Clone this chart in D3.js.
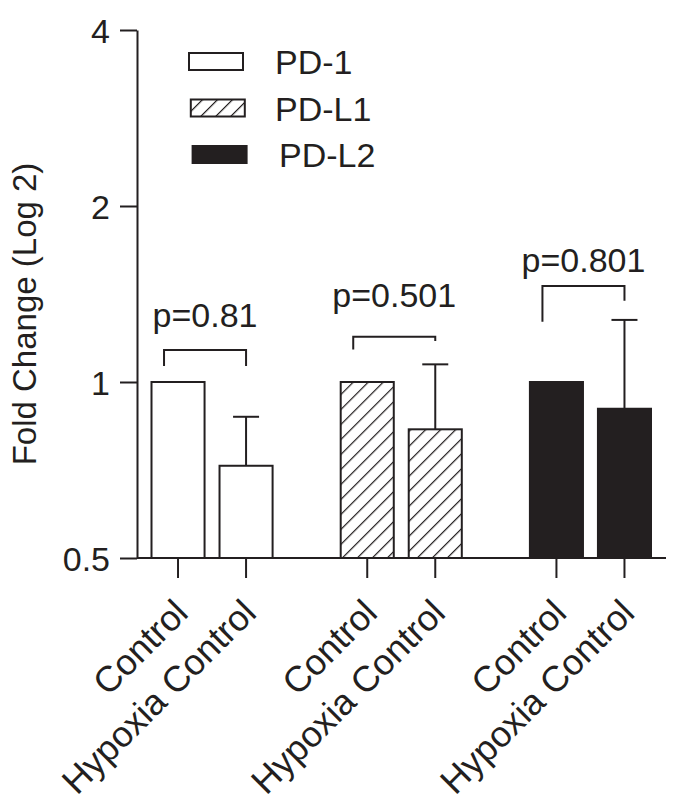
<!DOCTYPE html>
<html>
<head>
<meta charset="utf-8">
<script src="https://cdn.jsdelivr.net/npm/d3@7"></script>
<style>
  body { margin: 0; background: #fff; }
  text { font-family: "Liberation Sans", Arial, Helvetica, sans-serif; fill: #231f20; }
</style>
</head>
<body>
<script>
// data
var groups = ["PD-1", "PD-L1", "PD-L2"];
var conditions = ["Control", "Hypoxia Control"];
var meanControl = [1, 1, 1];
var meanHypoxia = [0.719, 0.830, 0.900];
var errTopHypoxia = [0.872, 1.072, 1.277];
var pValues = ["p=0.81", "p=0.501", "p=0.801"];
var bracketTop = [1.134, 1.195, 1.459];
var bracketLeftEnd = [1.065, 1.137, 1.268];
var bracketRightEnd = [1.065, 1.175, 1.377];
var pLabelLevel = [1.243, 1.345, 1.544];
var yTicks = [0.5, 1, 2, 4];

var width = 691, height = 812;
var ink = "#231f20";

var svg = d3.select("body").append("svg")
  .attr("width", width)
  .attr("height", height);

var defs = svg.append("defs");
var hatch = defs.append("pattern")
  .attr("id", "hatch")
  .attr("patternUnits", "userSpaceOnUse")
  .attr("width", 10.6)
  .attr("height", 10.6)
  .attr("patternTransform", "rotate(45)");
hatch.append("rect").attr("width", 10.6).attr("height", 10.6).attr("fill", "#fff");
hatch.append("line")
  .attr("x1", 0).attr("y1", 0).attr("x2", 0).attr("y2", 10.6)
  .attr("stroke", ink).attr("stroke-width", 2.4);

var fills = { "PD-1": "#fff", "PD-L1": "url(#hatch)", "PD-L2": ink };

//	scales
var y = d3.scaleLog().base(2).domain([0.5, 4]).range([558, 30]);

var x0 = d3.scaleBand().domain(groups)
  .range([151.5, 651])
  .paddingInner(0.36)
  .paddingOuter(0);

var x1 = d3.scaleBand().domain(conditions)
  .range([0, x0.bandwidth()])
  .paddingInner(0.22);

var bars = [];
groups.forEach(function(g, i) {
  bars.push({ group: g, cond: conditions[0], value: meanControl[i], err: null });
  bars.push({ group: g, cond: conditions[1], value: meanHypoxia[i], err: errTopHypoxia[i] });
});

function cx(d) { return x0(d.group) + x1(d.cond) + x1.bandwidth() / 2; }

// error bars (behind bars)
var errs = svg.append("g").selectAll("g")
  .data(bars.filter(function(d) { return d.err != null; }))
  .enter().append("g")
  .attr("stroke", ink).attr("stroke-width", 2);
errs.append("line")
  .attr("x1", cx).attr("x2", cx)
  .attr("y1", function(d) { return y(d.value); })
  .attr("y2", function(d) { return y(d.err); });
errs.append("line")
  .attr("x1", function(d) { return cx(d) - 13; })
  .attr("x2", function(d) { return cx(d) + 13; })
  .attr("y1", function(d) { return y(d.err); })
  .attr("y2", function(d) { return y(d.err); });

// bars
svg.append("g").selectAll("rect")
  .data(bars)
  .enter().append("rect")
  .attr("x", function(d) { return x0(d.group) + x1(d.cond); })
  .attr("width", x1.bandwidth())
  .attr("y", function(d) { return y(d.value); })
  .attr("height", function(d) { return y(0.5) - y(d.value); })
  .attr("fill", function(d) { return fills[d.group]; })
  .attr("stroke", ink)
  .attr("stroke-width", 2);

// y axis
var yAxis = svg.append("g")
  .attr("transform", "translate(137,0)")
  .call(d3.axisLeft(y).tickValues(yTicks)
    .tickFormat(function(d) { return d; })
    .tickSize(17).tickSizeOuter(0).tickPadding(10));
yAxis.select(".domain").attr("stroke", ink).attr("stroke-width", 2);
yAxis.selectAll(".tick line").attr("stroke", ink).attr("stroke-width", 2);
yAxis.selectAll(".tick text")
  .attr("font-size", 34)
  .attr("font-family", "Liberation Sans, Arial, sans-serif")
  .attr("fill", ink)
  .attr("dy", "0.37em");

// x axis line + ticks
svg.append("line")
  .attr("x1", 137).attr("x2", 666)
  .attr("y1", y(0.5)).attr("y2", y(0.5))
  .attr("stroke", ink).attr("stroke-width", 2);

svg.append("g").selectAll("line")
  .data(bars)
  .enter().append("line")
  .attr("x1", cx).attr("x2", cx)
  .attr("y1", y(0.5)).attr("y2", y(0.5) + 20)
  .attr("stroke", ink).attr("stroke-width", 2);

svg.append("g").selectAll("text")
  .data(bars)
  .enter().append("text")
  .attr("transform", function(d) { return "translate(" + (cx(d) + 12) + "," + (y(0.5) + 57) + ") rotate(-45)"; })
  .attr("text-anchor", "end")
  .attr("font-size", 36)
  .text(function(d) { return d.cond; });

// y title
svg.append("text")
  .attr("transform", "translate(36,314) rotate(-90)")
  .attr("text-anchor", "middle")
  .attr("font-size", 33)
  .text("Fold Change (Log 2)");

// significance brackets
groups.forEach(function(g, i) {
  var xl = x0(g) + x1(conditions[0]) + x1.bandwidth() / 2 - 14;
  var xr = x0(g) + x1(conditions[1]) + x1.bandwidth() / 2;
  svg.append("path")
    .attr("d", "M" + xl + "," + y(bracketLeftEnd[i]) +
      "V" + y(bracketTop[i]) + "H" + xr + "V" + y(bracketRightEnd[i]))
    .attr("fill", "none")
    .attr("stroke", ink)
    .attr("stroke-width", 2);
  svg.append("text")
    .attr("x", (xl + xr) / 2)
    .attr("y", y(pLabelLevel[i]))
    .attr("text-anchor", "middle")
    .attr("font-size", 34)
    .text(pValues[i]);
});

// legend
var legend = svg.append("g").selectAll("g")
  .data(groups)
  .enter().append("g")
  .attr("transform", function(d, i) { return "translate(0," + (i * 46.5) + ")"; });
legend.append("rect")
  .attr("x", function(d, i) { return 189 + i * 1.8; })
  .attr("y", 53)
  .attr("width", 54)
  .attr("height", 17)
  .attr("fill", function(d) { return fills[d]; })
  .attr("stroke", ink)
  .attr("stroke-width", 2);
legend.append("text")
  .attr("x", function(d, i) { return i == 2 ? 279 : 275; })
  .attr("y", 74)
  .attr("font-size", 34)
  .text(function(d) { return d; });
</script>
</body>
</html>
